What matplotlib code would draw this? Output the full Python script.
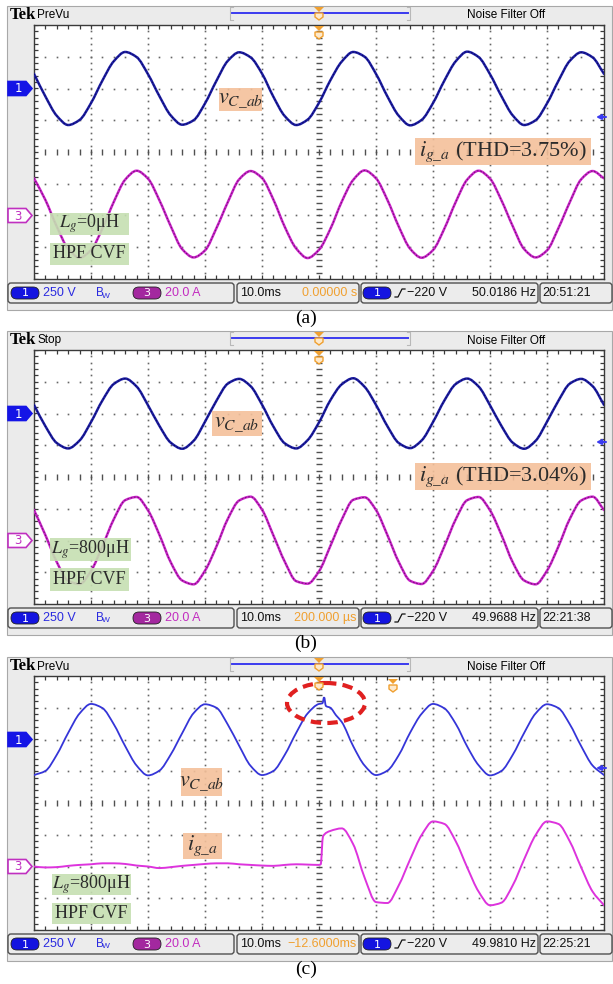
import numpy as np
import matplotlib.pyplot as plt
from matplotlib import font_manager
from matplotlib.path import Path
from matplotlib.patches import Rectangle, FancyBboxPatch, Ellipse, Polygon, PathPatch

plt.rcParams['mathtext.fontset'] = 'stix'
_names = {f.name for f in font_manager.fontManager.ttflist}
SERIF = ['Liberation Serif', 'DejaVu Serif']
NARROW = 'Liberation Sans Narrow' if 'Liberation Sans Narrow' in _names else 'Liberation Sans'

W, H = 613, 984

# time samples in ms (10 ms/div, 10 div), values in divisions (-4..4)
t2 = np.arange(0, 101, 2)

# (a) Lg = 0 uH
va = [2.46, 1.75, 1.14, 0.85, 1.01, 1.54, 2.25, 2.86, 3.15, 2.99,
      2.45, 1.76, 1.15, 0.86, 1.00, 1.53, 2.24, 2.87, 3.14, 2.98,
      2.47, 1.74, 1.13, 0.85, 1.02, 1.55, 2.26, 2.85, 3.15, 3.00,
      2.46, 1.75, 1.14, 0.84, 1.01, 1.54, 2.25, 2.86, 3.16, 2.99,
      2.45, 1.76, 1.15, 0.85, 1.00, 1.53, 2.24, 2.87, 3.14, 2.98,
      2.46]
ia = [-0.83, -1.51, -2.35, -3.05, -3.33, -3.09, -2.41, -1.57, -0.87, -0.59,
      -0.84, -1.52, -2.34, -3.06, -3.32, -3.10, -2.40, -1.58, -0.86, -0.60,
      -0.82, -1.50, -2.36, -3.04, -3.34, -3.08, -2.42, -1.56, -0.88, -0.58,
      -0.83, -1.51, -2.35, -3.05, -3.33, -3.09, -2.41, -1.57, -0.87, -0.59,
      -0.84, -1.52, -2.34, -3.06, -3.32, -3.10, -2.40, -1.58, -0.86, -0.60,
      -0.83]

# (b) Lg = 800 uH
vb = [2.27, 1.60, 1.07, 0.90, 1.15, 1.73, 2.41, 2.93, 3.10, 2.85,
      2.26, 1.61, 1.08, 0.89, 1.14, 1.74, 2.40, 2.94, 3.09, 2.86,
      2.28, 1.59, 1.06, 0.90, 1.16, 1.72, 2.42, 2.92, 3.11, 2.84,
      2.27, 1.60, 1.07, 0.91, 1.15, 1.73, 2.41, 2.93, 3.10, 2.85,
      2.26, 1.61, 1.08, 0.89, 1.14, 1.74, 2.40, 2.94, 3.09, 2.86,
      2.27]
ib = [-1.04, -1.83, -2.68, -3.27, -3.37, -2.96, -2.18, -1.33, -0.73, -0.63,
      -1.05, -1.82, -2.69, -3.26, -3.38, -2.95, -2.19, -1.32, -0.74, -0.62,
      -1.03, -1.84, -2.67, -3.28, -3.36, -2.97, -2.17, -1.34, -0.72, -0.64,
      -1.04, -1.83, -2.68, -3.27, -3.37, -2.96, -2.18, -1.33, -0.73, -0.63,
      -1.05, -1.82, -2.69, -3.26, -3.38, -2.95, -2.19, -1.32, -0.74, -0.62,
      -1.04]

# (c) Lg = 800 uH, start-up transient
tc_v = [0, 2, 4, 6, 8, 10, 12, 14, 16, 18, 20, 22, 24, 26, 28, 30, 32, 34, 36, 38,
        40, 42, 44, 46, 48, 50, 50.6, 50.9, 51.2, 52, 53, 54, 56, 58,
        60, 62, 64, 66, 68, 70, 72, 74, 76, 78, 80, 82, 84, 86, 88, 90, 92, 94, 96, 98, 100]
vc = [0.88, 1.01, 1.52, 2.21, 2.82, 3.12, 2.99, 2.48, 1.79, 1.18,
      0.87, 1.02, 1.53, 2.20, 2.83, 3.11, 3.00, 2.47, 1.80, 1.17,
      0.88, 1.01, 1.52, 2.21, 2.82, 3.12, 3.14, 3.33, 3.06, 3.00, 2.76, 2.55, 1.79, 1.18,
      0.88, 1.02, 1.51, 2.22, 2.81, 3.12, 2.98, 2.49, 1.78, 1.19,
      0.87, 1.01, 1.52, 2.21, 2.82, 3.11, 2.99, 2.48, 1.79, 1.18,
      0.88]
tc_i = [0, 2, 4, 6, 8, 10, 12, 14, 16, 18, 20, 22, 24, 26, 28, 30, 32, 34, 36, 38,
        40, 42, 44, 46, 48, 50, 50.3, 50.7, 52, 54, 56, 58,
        60, 62, 64, 66, 68, 70, 72, 74, 76, 78, 80, 82, 84, 86, 88, 90, 92, 94, 96, 98, 100]
ic = [-2.00, -2.03, -2.02, -1.98, -1.95, -1.93, -1.90, -1.90, -1.92, -1.97,
      -2.00, -2.05, -2.02, -1.98, -1.95, -1.92, -1.90, -1.90, -1.93, -1.95,
      -1.97, -1.98, -1.95, -1.93, -1.94, -1.95, -1.93, -1.05, -0.88, -0.80, -1.30, -2.35,
      -3.12, -3.15, -2.59, -1.77, -1.01, -0.58, -0.66, -1.21, -2.03, -2.79,
      -3.22, -3.14, -2.59, -1.77, -1.01, -0.58, -0.66, -1.21, -2.03, -2.79,
      -3.22]

status = ['PreVu', 'Stop', 'PreVu']
delays = ['0.00000 s', '200.000 \u00b5s', '\u221212.6000ms']
freqs = ['50.0186 Hz', '49.9688 Hz', '49.9810 Hz']
clocks = ['20:51:21', '22:21:38', '22:25:21']
captions = ['(a)', '(b)', '(c)']
thd = ['3.75%', '3.04%', None]
lg = ['0', '800', '800']
tops = [25, 350, 676]

BLUE = '#1e1ea6'
MAG = '#cc22cc'
ORANGE = '#f0a030'


def trace(ax, t, y, **kw):
    # monotone cubic (pchip-style) bezier through the read samples
    t = np.asarray(t, float)
    y = np.asarray(y, float)
    h = np.diff(t)
    d = np.diff(y) / h
    m = np.zeros_like(y)
    m[0], m[-1] = d[0], d[-1]
    for j in range(1, len(y) - 1):
        if d[j - 1] * d[j] > 0:
            w1 = 2 * h[j] + h[j - 1]
            w2 = h[j] + 2 * h[j - 1]
            m[j] = (w1 + w2) / (w1 / d[j - 1] + w2 / d[j])
    verts = [(t[0], y[0])]
    codes = [Path.MOVETO]
    for j in range(len(t) - 1):
        verts += [(t[j] + h[j] / 3, y[j] + m[j] * h[j] / 3),
                  (t[j + 1] - h[j] / 3, y[j + 1] - m[j + 1] * h[j] / 3),
                  (t[j + 1], y[j + 1])]
        codes += [Path.CURVE4] * 3
    ax.add_patch(PathPatch(Path(verts, codes), fill=False, capstyle='round', **kw))


fig = plt.figure(figsize=(W / 100, H / 100), dpi=100)
bg = fig.add_axes([0, 0, 1, 1])
bg.set_xlim(0, W)
bg.set_ylim(H, 0)
bg.axis('off')


def trig_marker(axp, x, y, z=5):
    axp.add_patch(Polygon([(x - 5, y), (x + 5, y), (x, y + 5)], closed=True,
                          fc=ORANGE, ec='none', zorder=z))
    axp.add_patch(Polygon([(x - 4, y + 6), (x + 4, y + 6), (x + 4, y + 10), (x, y + 13),
                           (x - 4, y + 10)], closed=True, fc='#fde9cc', ec=ORANGE,
                          lw=1, zorder=z))


def chan_tag(x0, y, label, fc, ec, tc):
    bg.add_patch(Polygon([(x0, y - 7), (x0 + 18, y - 7), (x0 + 24, y), (x0 + 18, y + 7),
                          (x0, y + 7)], closed=True, fc=fc, ec=ec, lw=1.2, zorder=4))
    bg.text(x0 + 10, y + 0.5, label, color=tc, family='DejaVu Sans', size=8.5,
            ha='center', va='center', zorder=5)


def pill(x, y, label, fc):
    bg.add_patch(FancyBboxPatch((x, y - 6), 28, 12, boxstyle='round,pad=0,rounding_size=6',
                                fc=fc, ec='#202020', lw=0.6, zorder=4))
    bg.text(x + 14, y + 0.5, label, color='white', family='DejaVu Sans', size=8,
            ha='center', va='center', zorder=5)


axes = []
for k, G in enumerate(tops):
    # screen frame
    bg.add_patch(Rectangle((7, G - 19), 605, 304, fc='#ebebeb', ec='#a8a8a8', lw=0.8))
    # header
    bg.text(10, G - 10, 'Tek', family=SERIF, weight='bold', size=12, va='center')
    bg.text(37, G - 9.5, status[k], family=NARROW, size=8.5, va='center')
    bg.plot([232, 408], [G - 12, G - 12], color='#3b3bf0', lw=1.4)
    bg.plot([233, 230, 230, 233], [G - 18, G - 18, G - 5, G - 5], color='#b8b8b8', lw=0.8)
    bg.plot([407, 410, 410, 407], [G - 18, G - 18, G - 5, G - 5], color='#b8b8b8', lw=0.8)
    trig_marker(bg, 319, G - 18)
    bg.text(506, G - 9.5, 'Noise Filter Off', family=NARROW, size=8.5,
            ha='center', va='center')

    # footer
    fy = G + 268
    for x0, x1 in [(8, 234), (237, 359), (361, 538), (540, 612)]:
        bg.add_patch(FancyBboxPatch((x0, fy - 10), x1 - x0, 20,
                                    boxstyle='round,pad=0,rounding_size=3',
                                    fc='#ececec', ec='#505050', lw=1))
    pill(11, fy, '1', '#1414e0')
    bg.text(43, fy, '250 V', color='#2a2ae0', family=NARROW, size=9, va='center')
    bg.text(96, fy, 'B', color='#2a2ae0', family=NARROW, size=8.5, va='center')
    bg.text(102, fy + 3, 'W', color='#2a2ae0', family=NARROW, size=6, va='center')
    pill(133, fy, '3', '#a3289f')
    bg.text(165, fy, '20.0 A', color='#c22cc0', family=NARROW, size=9, va='center')
    bg.text(240, fy, '10.0ms', color='#111111', family=NARROW, size=9, va='center')
    bg.text(357, fy, delays[k], color=ORANGE, family=NARROW, size=9,
            ha='right', va='center')
    pill(363, fy, '1', '#1414e0')
    bg.plot([395, 398, 402, 405], [fy + 4, fy + 4, fy - 4, fy - 4], color='#111111', lw=0.9)
    bg.text(407, fy, '\u2212220 V', color='#111111', family=NARROW, size=9, va='center')
    bg.text(536, fy, freqs[k], color='#111111', family=NARROW, size=9,
            ha='right', va='center')
    bg.text(542, fy, clocks[k], color='#111111', family=NARROW, size=9, va='center')

    bg.text(306, G + 293, captions[k], family=SERIF, size=14, ha='center', va='center')

    # channel tags on the left strip
    chan_tag(8, G + 63.5, '1', '#1414e6', '#1414e6', 'white')
    chan_tag(8, G + 190.5, '3', 'white', '#c030c0', '#c030c0')

    # graticule
    ax = fig.add_axes([34 / W, 1 - (G + 254) / H, 570 / W, 254 / H])
    ax.set_xlim(0, 100)
    ax.set_ylim(-4, 4)
    ax.set_xticks([])
    ax.set_yticks([])
    ax.set_facecolor('white')
    for s in ax.spines.values():
        s.set_color('#3a3a3a')
        s.set_linewidth(1.0)
    dv = np.arange(-4, 4.01, 0.2)
    dt = np.arange(0, 100.1, 2)
    for tk in [10, 20, 30, 40, 60, 70, 80, 90]:
        ax.plot(np.full(dv.size, tk), dv, ls='none', marker='s', ms=1.2, mew=0,
                color='#666666')
    for vk in [-3, -2, -1, 1, 2, 3]:
        ax.plot(dt, np.full(dt.size, vk), ls='none', marker='s', ms=1.2, mew=0,
                color='#666666')
    ax.plot(np.full(dv.size, 50), dv, ls='none', marker='_', ms=4, mew=1.0, color='#505050')
    ax.plot(dt, np.zeros(dt.size), ls='none', marker='|', ms=4, mew=1.0, color='#505050')
    ax.plot(dt, np.full(dt.size, 4), ls='none', marker='|', ms=6, mew=0.9, color='#3a3a3a')
    ax.plot(dt, np.full(dt.size, -4), ls='none', marker='|', ms=6, mew=0.9, color='#3a3a3a')
    ax.plot(np.zeros(dv.size), dv, ls='none', marker='_', ms=6, mew=0.9, color='#3a3a3a')
    ax.plot(np.full(dv.size, 100), dv, ls='none', marker='_', ms=6, mew=0.9, color='#3a3a3a')
    axes.append(ax)

ax_a, ax_b, ax_c = axes
for ax, v, i in [(ax_a, va, ia), (ax_b, vb, ib)]:
    trace(ax, t2, i, ec=MAG, lw=1.8, zorder=3)
    trace(ax, t2, i, ec='#6a1a6a', lw=0.7, ls=(0, (1, 2.5)), zorder=4)
    trace(ax, t2, v, ec=BLUE, lw=1.8, zorder=3)
    trace(ax, t2, v, ec='#0a0a5a', lw=0.7, ls=(0, (1, 2.5)), zorder=4)
trace(ax_c, tc_i, ic, ec='#dd33dd', lw=1.4, zorder=3)
trace(ax_c, tc_v, vc, ec='#3535d8', lw=1.3, zorder=3)

# overlay for markers and labels
ov = fig.add_axes([0, 0, 1, 1], zorder=10)
ov.set_xlim(0, W)
ov.set_ylim(H, 0)
ov.axis('off')
ov.patch.set_alpha(0)

for G in tops:
    trig_marker(ov, 319, G + 1)
    ov.annotate('', xy=(596, G + 92), xytext=(606, G + 92),
                arrowprops=dict(arrowstyle='-|>', color='#3b3bf0', lw=1.5,
                                mutation_scale=7, shrinkA=0, shrinkB=0))
trig_marker(ov, 393, tops[2] + 3)


def label_box(x0, y0, x1, y1, fc, text, size, tx=None):
    ov.add_patch(Rectangle((x0, y0), x1 - x0, y1 - y0, fc=fc, ec='none', alpha=0.9))
    if tx is None:
        ov.text((x0 + x1) / 2, (y0 + y1) / 2, text, family=SERIF, size=size,
                color='#2b2b2b', ha='center', va='center')
    else:
        ov.text(tx, (y0 + y1) / 2, text, family=SERIF, size=size,
                color='#2b2b2b', ha='left', va='center')


PEACH = '#f4c09a'
GREEN = '#c6dfb2'
vlab = r'$v_{C\_ab}$'
ilab = r'$i_{g\_a}$'

label_box(219, 88, 262, 111, PEACH, vlab, 16)
label_box(415, 138, 591, 165, PEACH, ilab + ' (THD=' + thd[0] + ')', 16, tx=419)
label_box(50, 213, 129, 235, GREEN, r'$L_g$=' + lg[0] + '\u03bcH', 13)
label_box(50, 243, 129, 265, GREEN, 'HPF CVF', 13)

label_box(212, 411, 262, 436, PEACH, vlab, 16)
label_box(415, 463, 591, 490, PEACH, ilab + ' (THD=' + thd[1] + ')', 16, tx=419)
label_box(50, 538, 131, 561, GREEN, r'$L_g$=' + lg[1] + '\u03bcH', 13)
label_box(50, 568, 129, 591, GREEN, 'HPF CVF', 13)

label_box(181, 768, 222, 796, PEACH, vlab, 16)
label_box(183, 833, 222, 859, PEACH, ilab, 16)
label_box(52, 874, 131, 895, GREEN, r'$L_g$=' + lg[2] + '\u03bcH', 13)
label_box(52, 903, 131, 924, GREEN, 'HPF CVF', 13)

ov.add_patch(Ellipse((326, 703), 78, 40, fill=False, ec='#e02020', lw=3,
                     ls=(0, (2.5, 1.5))))

fig.savefig('out.png', dpi=100)
